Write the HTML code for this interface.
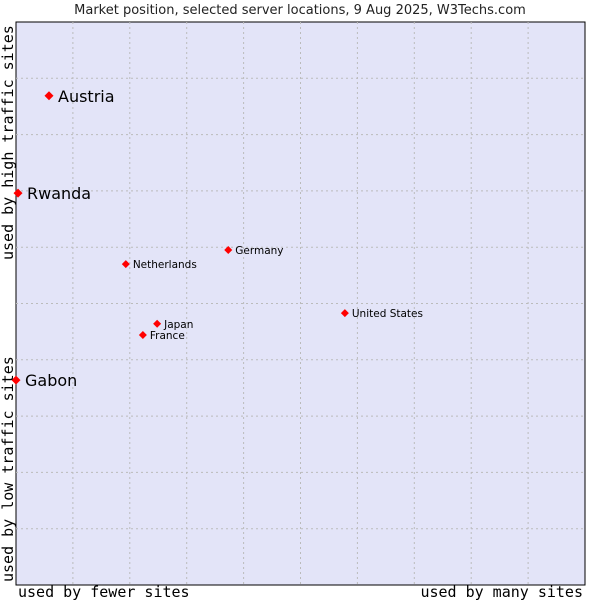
<!DOCTYPE html>
<html><head><meta charset="utf-8"><style>
body{margin:0;background:#fff;}
svg{display:block;}
</style></head><body>
<svg id="chart" width="600" height="600" xmlns="http://www.w3.org/2000/svg">
<text x="300" y="14" text-anchor="middle" font-family="DejaVu Sans, sans-serif" font-size="13" fill="#222">Market position, selected server locations, 9 Aug 2025, W3Techs.com</text>
<rect x="16" y="22" width="569" height="563" fill="#e3e4f8" stroke="#000" stroke-width="1"/>
<g id="grid"></g>
<g id="points"></g>
<text x="18" y="597" font-family="DejaVu Sans Mono, monospace" font-size="15" fill="#000">used by fewer sites</text>
<text x="583" y="597" text-anchor="end" font-family="DejaVu Sans Mono, monospace" font-size="15" fill="#000">used by many sites</text>
<text transform="translate(13,582) rotate(-90)" font-family="DejaVu Sans Mono, monospace" font-size="15" fill="#000">used by low traffic sites</text>
<text transform="translate(13,260) rotate(-90)" font-family="DejaVu Sans Mono, monospace" font-size="15" fill="#000">used by high traffic sites</text>
</svg>
<script>
const names = ["Austria","Rwanda","Gabon","Netherlands","Germany","United States","Japan","France"];
const xValues = [5.8,0.35,0,19.3,37.3,57.8,24.8,22.3];
const yValues = [86.9,69.6,36.4,57.0,59.5,48.3,46.4,44.4];
const highlighted = [true,true,true,false,false,false,false,false];
const NS="http://www.w3.org/2000/svg";
const X0=16,X1=585,Y0=585,Y1=22;
function sx(v){return X0+(X1-X0)*v/100;}
function sy(v){return Y0-(Y0-Y1)*v/100;}
const grid=document.getElementById('grid');
for(let i=1;i<10;i++){
  const v=document.createElementNS(NS,'line');
  
  
  v.setAttribute('x1',sx(i*10));v.setAttribute('x2',sx(i*10));v.setAttribute('y1',Y1);v.setAttribute('y2',Y0);
  v.setAttribute('stroke','#bbb');v.setAttribute('stroke-dasharray','2,3');
  grid.appendChild(v);
  const h=document.createElementNS(NS,'line');
  
  
  h.setAttribute('y1',sy(i*10));h.setAttribute('y2',sy(i*10));h.setAttribute('x1',X0);h.setAttribute('x2',X1);
  h.setAttribute('stroke','#bbb');h.setAttribute('stroke-dasharray','2,3');
  grid.appendChild(h);
}
const pts=document.getElementById('points');
names.forEach((n,i)=>{
  const x=sx(xValues[i]),y=sy(yValues[i]);
  const big=highlighted[i];
  const r=big?4.5:4;
  const p=document.createElementNS(NS,'path');
  
  
  p.setAttribute('d',`M${x},${y-r}L${x+r},${y}L${x},${y+r}L${x-r},${y}Z`);
  p.setAttribute('fill','#f00');
  pts.appendChild(p);
  const t=document.createElementNS(NS,'text');
  
  
  t.setAttribute('x',x+(big?9:7));t.setAttribute('y',y+(big?6:4));
  t.setAttribute('font-family','DejaVu Sans, sans-serif');
  t.setAttribute('font-size',big?'16':'10.5');
  t.setAttribute('fill','#000');
  t.textContent=n;
  pts.appendChild(t);
});
</script>
</body></html>
